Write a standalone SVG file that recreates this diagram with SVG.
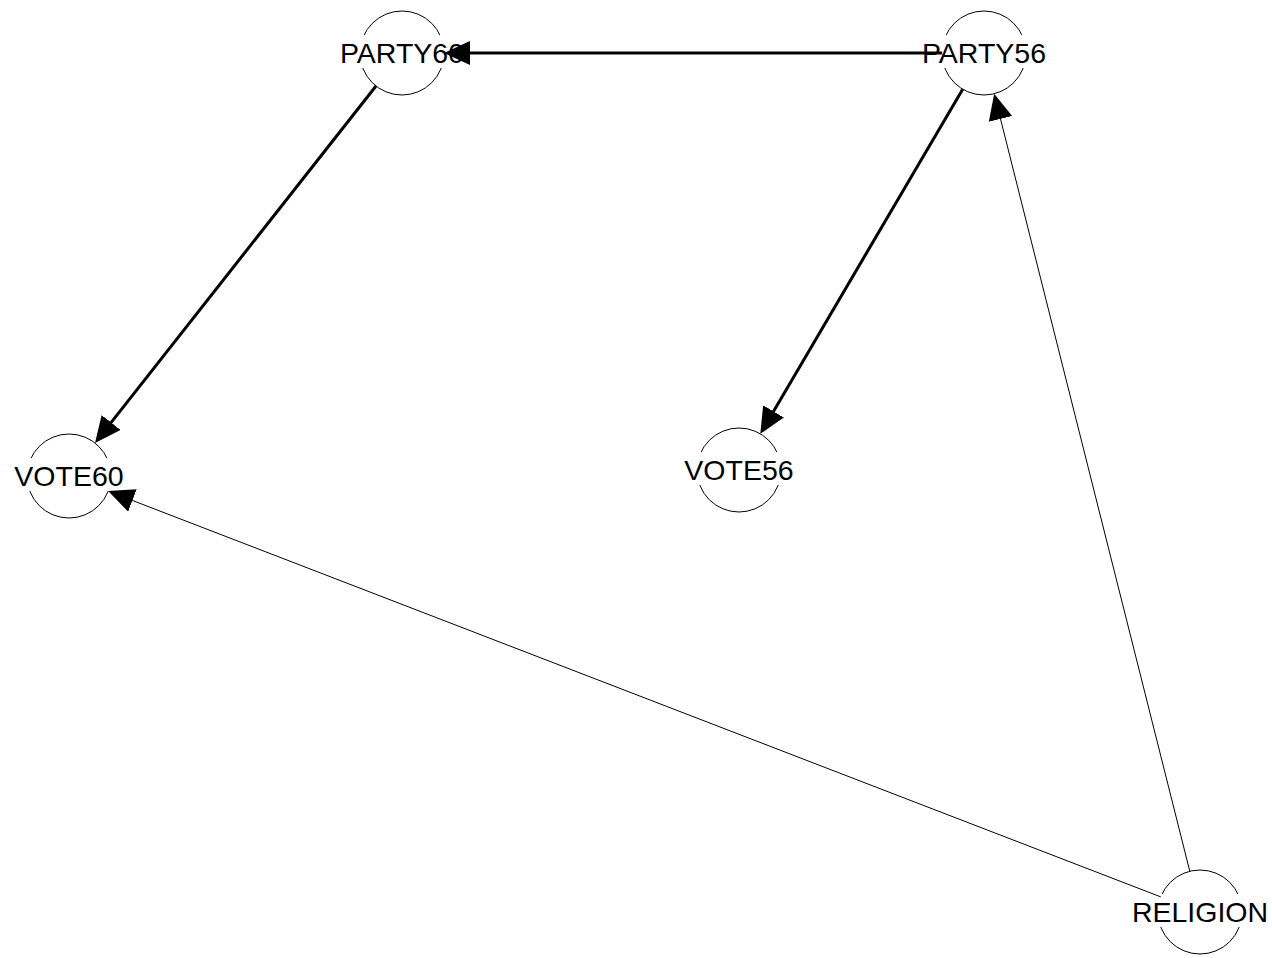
<svg xmlns="http://www.w3.org/2000/svg" width="1272" height="958" viewBox="0 0 1272 958">
<style>
.node circle{fill:none;stroke:#000;stroke-width:1}
.node rect{fill:#fff;stroke:none}
.node text{font-family:"Liberation Sans",Arial,sans-serif;font-size:28.5px;fill:#000;text-anchor:middle}
.thick{stroke:#000;stroke-width:3;fill:none}
.thin{stroke:#000;stroke-width:1;fill:none}
</style>
<defs>
<marker id="arrow" markerUnits="userSpaceOnUse" markerWidth="28" markerHeight="26" refX="16" refY="12" orient="auto" viewBox="0 0 28 26">
<path d="M0,0 L26,12 L0,24 Z" fill="#000"/>
</marker>
</defs>
<rect width="1272" height="958" fill="#fff"/>
<g id="PARTY60" class="node">
<circle cx="402" cy="53" r="42"/>
<rect x="338" y="35" width="128" height="33"/>
<text x="402" y="63">PARTY60</text>
</g>
<g id="PARTY56" class="node">
<circle cx="984" cy="53" r="42"/>
<rect x="920" y="35" width="128" height="33"/>
<text x="984" y="63">PARTY56</text>
</g>
<g id="VOTE60" class="node">
<circle cx="69" cy="476" r="42"/>
<rect x="13" y="458" width="112" height="33"/>
<text x="69" y="486">VOTE60</text>
</g>
<g id="VOTE56" class="node">
<circle cx="739" cy="470" r="42"/>
<rect x="683" y="452" width="112" height="33"/>
<text x="739" y="480">VOTE56</text>
</g>
<g id="RELIGION" class="node">
<circle cx="1200" cy="912" r="42"/>
<rect x="1132" y="894" width="136" height="33"/>
<text x="1200" y="922">RELIGION</text>
</g>
<g id="edges">
<line class="thick" x1="942" y1="53" x2="454" y2="53" marker-end="url(#arrow)"/>
<line class="thick" x1="376" y1="86" x2="101.2" y2="435.1" marker-end="url(#arrow)"/>
<line class="thick" x1="962.7" y1="89.2" x2="765.4" y2="425.2" marker-end="url(#arrow)"/>
<line class="thin" x1="1189.8" y1="871.3" x2="996.6" y2="103.4" marker-end="url(#arrow)"/>
<line class="thin" x1="1160.8" y1="896.9" x2="117.5" y2="494.7" marker-end="url(#arrow)"/>
</g>
</svg>
